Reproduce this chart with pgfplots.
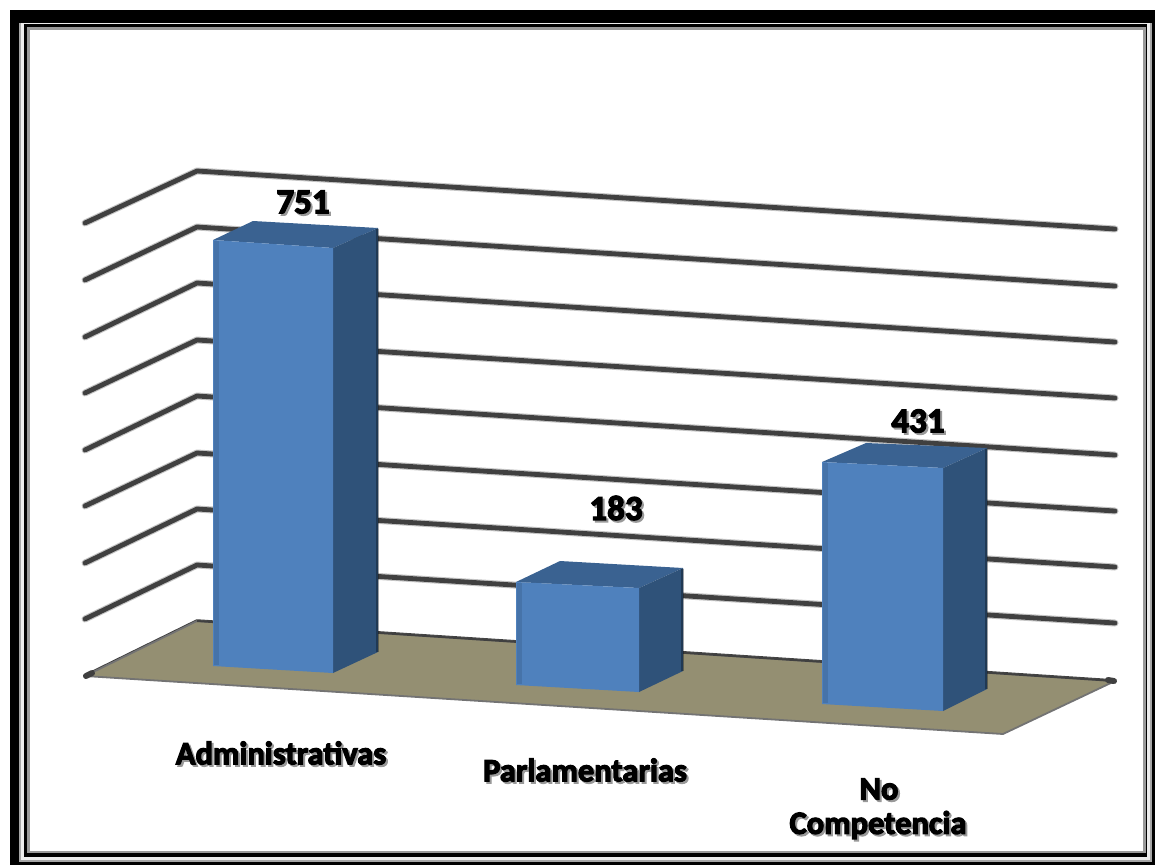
\documentclass[border=0pt]{standalone}
\usepackage{pgfplots}
\usepackage{fontspec}
\pgfplotsset{compat=1.18}
\newfontfamily\lab[BoldFeatures={FakeBold=3.6}]{Carlito}
\definecolor{front}{HTML}{4F81BD}
\definecolor{side}{HTML}{2F5279}
\definecolor{topf}{HTML}{3A6291}
\definecolor{floorc}{HTML}{948F72}
\definecolor{grid}{HTML}{404040}
\newcommand{\bx}[2]{\addplot[fill=#1,draw=none,forget plot] coordinates {#2} -- cycle;}
\newcommand{\gl}[3]{%
 \addplot[color=gray,line width=7pt,opacity=.45,line cap=round,line join=round,forget plot] coordinates {(#1) (#2) (#3)};
 \addplot[color=grid,line width=4.8pt,line cap=round,line join=round,forget plot] coordinates {(#1) (#2) (#3)};}
\newcommand{\edge}[2]{\addplot[color=black,line width=3pt,opacity=.3,forget plot] coordinates {#1};
 \addplot[color=black,line width=5pt,opacity=.1,forget plot] coordinates {#2};}
\pgfplotsset{lbl/.style={only marks,mark=none,forget plot,point meta=explicit symbolic,nodes near coords,
 every node near coord/.append style={anchor=center,inner sep=0pt,color=#1}}}
\begin{document}
\begin{tikzpicture}
\begin{axis}[hide axis,scale only axis,width=1155pt,height=865pt,
 xmin=0,xmax=1155,ymin=0,ymax=865,y dir=reverse,enlargelimits=false]
% page and frame
\bx{white}{(0,0)(1155,0)(1155,865)(0,865)}
\bx{black}{(10,10)(1155,10)(1155,865)(10,865)}
\bx{gray!70}{(19,23)(1152,23)(1152,862)(19,862)}
\bx{white!85!gray}{(21,23)(1150,23)(1150,860)(21,860)}
\bx{black}{(24,24)(1147,24)(1147,857)(24,857)}
\bx{gray!80}{(27,27)(1146,27)(1146,853)(27,853)}
\bx{white}{(30,30)(1143,30)(1143,851)(30,851)}
% walls: gridlines
\gl{85,223}{197,171}{1115,229}
\gl{85,280}{197,227}{1115,286}
\gl{85,337}{197,283}{1115,342}
\gl{85,393}{197,340}{1115,398}
\gl{85,450}{197,396}{1115,455}
\gl{85,506}{197,453}{1115,511}
\gl{85,563}{197,509}{1115,567}
\gl{85,619}{197,565}{1115,623}
% floor
\addplot[color=grid,line width=3.5pt,line join=round,line cap=round,forget plot] coordinates {(85,676)(197,621)(1115,681)};
\addplot[color=black!55,line width=1.8pt,line join=round,fill=floorc,forget plot] coordinates {(85,676)(197,621)(1115,681)(1003,734)} -- cycle;
\addplot[color=grid,line width=2pt,forget plot] coordinates {(197,621)(1115,681)};
\addplot[color=grid,line width=6pt,line cap=round,forget plot] coordinates {(86,676)(92,673)};
\addplot[color=grid,line width=6pt,line cap=round,forget plot] coordinates {(1108,680)(1114,681)};
% bar Administrativas (751)
\bx{topf}{(213,240)(253,221)(378,228)(333,248)}
\bx{side}{(333,248)(378,228)(378,652)(333,673)}
\bx{front}{(213,240)(333,248)(333,673)(213,666)}
\edge{(377,229)(377,652)}{(216,241)(216,665)}
% bar Parlamentarias (183)
\bx{topf}{(516,582)(560,561)(683,568)(639,588)}
\bx{side}{(639,588)(683,568)(683,671)(639,692)}
\bx{front}{(516,582)(639,588)(639,692)(516,685)}
\edge{(682,569)(682,671)}{(519,583)(519,684)}
% bar No Competencia (431)
\bx{topf}{(822,462)(866,443)(987,448)(943,468)}
\bx{side}{(943,468)(987,448)(987,689)(943,711)}
\bx{front}{(822,462)(943,468)(943,711)(822,704)}
\edge{(986,449)(986,689)}{(825,463)(825,703)}
% value labels
\addplot[lbl=gray!80,nodes near coords style={font=\fontsize{35}{38}\lab\bfseries}] coordinates {(305,204)[751] (618,510)[183] (920,423)[431]};
\addplot[lbl=black,nodes near coords style={font=\fontsize{35}{38}\lab\bfseries}] coordinates {(303,202)[751] (616,508)[183] (918,421)[431]};
% category labels
\addplot[lbl=gray!80,nodes near coords style={font=\fontsize{32.5}{35}\lab\bfseries}] coordinates {(283,755)[Administrativas] (587,772)[Parlamentarias] (881,791)[No] (880,827)[Competencia]};
\addplot[lbl=black,nodes near coords style={font=\fontsize{32.5}{35}\lab\bfseries}] coordinates {(281,753)[Administrativas] (585,770)[Parlamentarias] (879,789)[No] (878,825)[Competencia]};
\end{axis}
\end{tikzpicture}
\end{document}
